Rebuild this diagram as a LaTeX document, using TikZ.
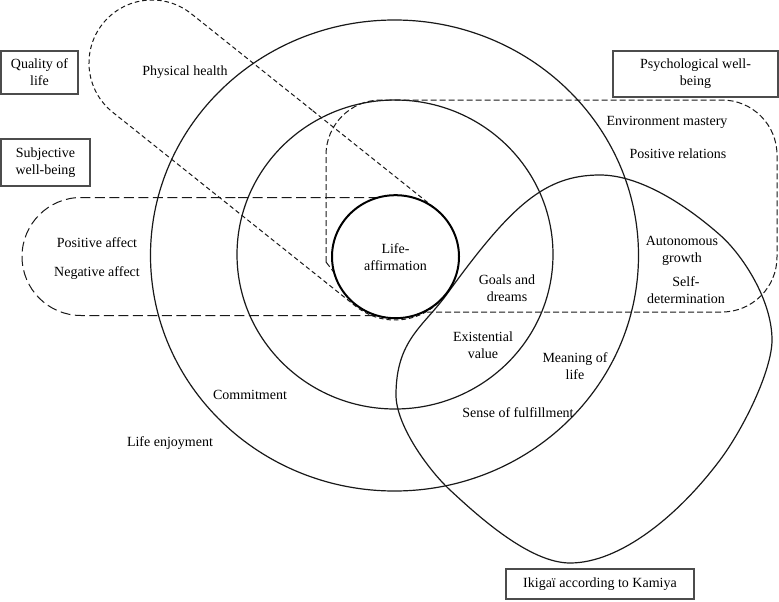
\documentclass[tikz,border=0pt]{standalone}
\usepackage{fontspec}
\setmainfont{Liberation Serif}
\usetikzlibrary{shapes.geometric, shapes.misc}

\begin{document}
\begin{tikzpicture}[
  x=1pt, y=-1pt,
  font=\fontsize{14}{17}\selectfont,
  ring/.style={draw=black!90, line width=1.2pt, ellipse, inner sep=0pt},
  core/.style={draw=black, line width=2pt, fill=white, ellipse, inner sep=0pt, align=center},
  capsule/.style={draw=black!90, line width=1pt, rounded rectangle, inner sep=0pt},
  fine/.style={dash pattern=on 4.5pt off 3pt},
  medium/.style={dash pattern=on 6pt off 3pt},
  coarse/.style={dash pattern=on 10pt off 4.5pt},
  ikigai/.style={draw=black!90, line width=1.2pt},
  box/.style={draw=black!70, line width=1.1pt, align=center, inner sep=2pt},
  lbl/.style={align=center, inner sep=1pt} % texte libre dans les zones
]
  \useasboundingbox (0,0) rectangle (779,602);

  % --- Anneaux (solides) ---
  \node[ring, minimum width=488pt, minimum height=471pt] (outer) at (394.5,255.5) {};
  \node[ring, minimum width=316pt, minimum height=309pt] (middle) at (395,254.5) {};

  % --- Zones en pointillés ---
  \node[capsule, fine, minimum width=437pt, minimum height=126pt, rotate=-38.6] (qolzone) at (273.5,160) {};
  \node[capsule, coarse, minimum width=432pt, minimum height=118pt] (swbzone) at (238,256.5) {};
  \draw[draw=black!90, line width=1pt, medium, rounded corners=55pt]
    (326,262) -- (326,100) -- (777,100) -- (777,312) -- (400,312);
  \draw[draw=black!90, line width=1pt, medium] (326,262) -- (346,288);

  % --- Ikigai ---
  \draw[ikigai] (396,395)
    .. controls (396,340) and (423.6,326.4) .. (447,294)
    .. controls (511.5,204.9) and (545,175) .. (600,175)
    .. controls (640,175) and (686,205) .. (720,235)
    .. controls (742.5,254.8) and (772,300) .. (772,340)
    .. controls (772,370) and (744,428) .. (720,460)
    .. controls (678,516) and (620,563) .. (570,563)
    .. controls (530,563) and (479,517) .. (450,490)
    .. controls (428,469.6) and (396,425) .. (396,395) -- cycle;

  % --- Centre ---
  \node[core, minimum width=127pt, minimum height=123pt] (lifeaff) at (395.5,256.7) {Life-\\affirmation};

  % --- Libellés ---
  \node[lbl] (physhealth) at (185,72) {Physical health};
  \node[lbl] (posaff) at (97,243) {Positive affect};
  \node[lbl] (negaff) at (97,273) {Negative affect};
  \node[lbl] (envmast) at (667,122) {Environment mastery};
  \node[lbl] (posrel) at (678,154) {Positive relations};
  \node[lbl] (autgrow) at (682,251) {Autonomous\\growth};
  \node[lbl] (selfdet) at (686,290) {Self-\\determination};
  \node[lbl] (goals) at (507,288) {Goals and\\dreams};
  \node[lbl] (exval) at (483,345) {Existential\\value};
  \node[lbl] (meaning) at (575,366) {Meaning of\\life};
  \node[lbl] (fulfil) at (518,413) {Sense of fulfillment};
  \node[lbl] (commit) at (250,395) {Commitment};
  \node[lbl] (enjoy) at (170,443) {Life enjoyment};

  % --- Cadres ---
  \node[box, minimum width=77pt, minimum height=43pt] (qol) at (39.5,72.5) {Quality of\\life};
  \node[box, minimum width=89pt, minimum height=47pt] (swb) at (45.5,162.5) {Subjective\\well-being};
  \node[box, minimum width=165pt, minimum height=46pt] (pwb) at (695.5,74) {Psychological well-\\being};
  \node[box, minimum width=188pt, minimum height=30pt] (kamiya) at (600,584) {Ikigaï according to Kamiya};

\end{tikzpicture}
\end{document}
